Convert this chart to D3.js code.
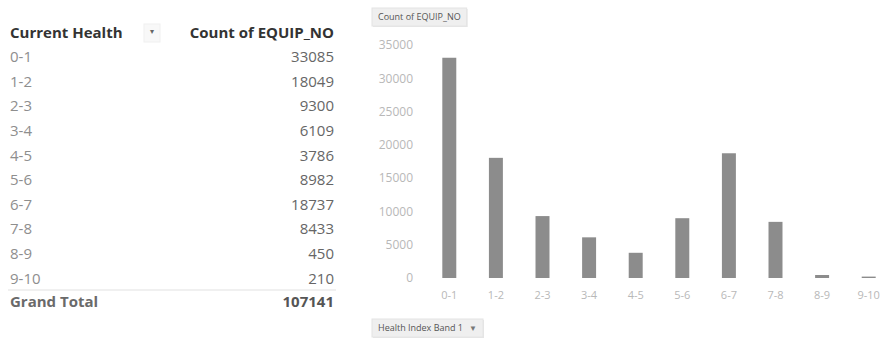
<!DOCTYPE html>
<html>
<head>
<meta charset="utf-8">
<script src="https://cdn.jsdelivr.net/npm/d3@7"></script>
<style>
  html, body { margin: 0; padding: 0; background: #ffffff; }
  svg { display: block; }
  text { font-family: "Open Sans", "Liberation Sans", sans-serif; }
</style>
</head>
<body>
<svg id="view" width="883" height="341"></svg>
<script>
// Pivot data: equipment counts per health band
const bands = ["0-1", "1-2", "2-3", "3-4", "4-5", "5-6", "6-7", "7-8", "8-9", "9-10"];
const counts = [33085, 18049, 9300, 6109, 3786, 8982, 18737, 8433, 450, 210];
const yTicks = [0, 5000, 10000, 15000, 20000, 25000, 30000, 35000];
const rowHeader = "Current Health";
const valueHeader = "Count of EQUIP_NO";
const totalLabel = "Grand Total";
const fieldButton = "Count of EQUIP_NO";
const axisButton = "Health Index Band 1";

const svg = d3.select("#view");

// ---------- pivot table ----------
const table = svg.append("g");
const rowY = d3.scaleLinear().domain([0, 1]).range([57, 81.6]);
const labelX = 10, valueX = 334;

table.append("text")
  .attr("x", labelX).attr("y", 33).attr("dy", "0.35em")
  .attr("font-size", 15).attr("font-weight", 700).attr("fill", "#333")
  .text(rowHeader);

// filter dropdown glyph next to the row header
table.append("rect")
  .attr("x", 144).attr("y", 24).attr("width", 16).attr("height", 18)
  .attr("fill", "#f8f8f8").attr("stroke", "#f0f0f0");
table.append("text")
  .attr("x", 152).attr("y", 31).attr("dy", "0.35em").attr("text-anchor", "middle")
  .attr("font-size", 8).attr("fill", "#666").text("▾");

table.append("text")
  .attr("x", valueX).attr("y", 33).attr("dy", "0.35em").attr("text-anchor", "end")
  .attr("font-size", 15).attr("font-weight", 700).attr("fill", "#333")
  .text(valueHeader);

const rows = table.selectAll("g.row").data(bands.map((b, i) => ({ band: b, count: counts[i] })))
  .join("g").attr("class", "row")
  .attr("transform", (d, i) => `translate(0,${rowY(i)})`);
rows.append("text")
  .attr("x", labelX).attr("dy", "0.35em")
  .attr("font-size", 15).attr("fill", "#8e8e8e")
  .text(d => d.band);
rows.append("text")
  .attr("x", valueX).attr("dy", "0.35em").attr("text-anchor", "end")
  .attr("font-size", 15).attr("fill", "#666")
  .text(d => d.count);

const totalY = rowY(bands.length - 1) + 23;
table.append("line")
  .attr("x1", 8).attr("x2", 336)
  .attr("y1", totalY - 11.5).attr("y2", totalY - 11.5)
  .attr("stroke", "#ebebeb").attr("stroke-width", 1.5);
table.append("text")
  .attr("x", labelX).attr("y", totalY).attr("dy", "0.35em")
  .attr("font-size", 15).attr("font-weight", 700).attr("fill", "#6a6a6a")
  .text(totalLabel);
table.append("text")
  .attr("x", valueX).attr("y", totalY).attr("dy", "0.35em").attr("text-anchor", "end")
  .attr("font-size", 15).attr("font-weight", 700).attr("fill", "#555")
  .text(d3.sum(counts));

// ---------- pivot chart ----------
const chart = svg.append("g");

const x = d3.scaleBand().domain(bands).range([426, 892]).paddingInner(0.7).paddingOuter(0.35);
const y = d3.scaleLinear().domain([0, 35000]).range([278, 45]);

// field buttons, sized to their caption
function fieldBtn(label, bx, by, arrow) {
  const g = chart.append("g").attr("transform", `translate(${bx},${by})`);
  const shadow = g.append("rect").attr("x", 1).attr("y", 1).attr("height", 18).attr("fill", "#e6e6e6");
  const face = g.append("rect").attr("height", 18).attr("fill", "#efefef").attr("stroke", "#e4e4e4");
  const t = g.append("text").attr("x", 6).attr("y", 9).attr("dy", "0.35em")
    .attr("font-size", 9).attr("fill", "#555").text(label);
  let w = t.node().getComputedTextLength() + 12;
  if (arrow) {
    g.append("text").attr("x", w).attr("y", 9).attr("dy", "0.35em")
      .attr("font-size", 8).attr("fill", "#777").text("▼");
    w += 14;
  }
  shadow.attr("width", w);
  face.attr("width", w);
}
fieldBtn(fieldButton, 372, 8, false);
fieldBtn(axisButton, 372, 319, true);

// y axis labels
const yAxis = chart.append("g")
  .attr("transform", "translate(413,0)")
  .call(d3.axisLeft(y).tickValues(yTicks).tickSize(0).tickPadding(0).tickFormat(d3.format("d")));
yAxis.select(".domain").remove();
yAxis.selectAll("text")
  .attr("font-family", "'Open Sans', sans-serif")
  .attr("font-size", 12).attr("fill", "#b8b8b8");

// x axis labels
const xAxis = chart.append("g")
  .attr("transform", "translate(0,291)")
  .call(d3.axisBottom(x).tickSize(0).tickPadding(0));
xAxis.select(".domain").remove();
xAxis.selectAll("text")
  .attr("font-family", "'Open Sans', sans-serif")
  .attr("font-size", 11).attr("fill", "#b8b8b8");

// bars
chart.append("g").selectAll("rect")
  .data(bands.map((b, i) => ({ band: b, count: counts[i] })))
  .join("rect")
  .attr("x", d => x(d.band))
  .attr("y", d => y(d.count))
  .attr("width", x.bandwidth())
  .attr("height", d => y(0) - y(d.count))
  .attr("fill", "#8c8c8c");
</script>
</body>
</html>
